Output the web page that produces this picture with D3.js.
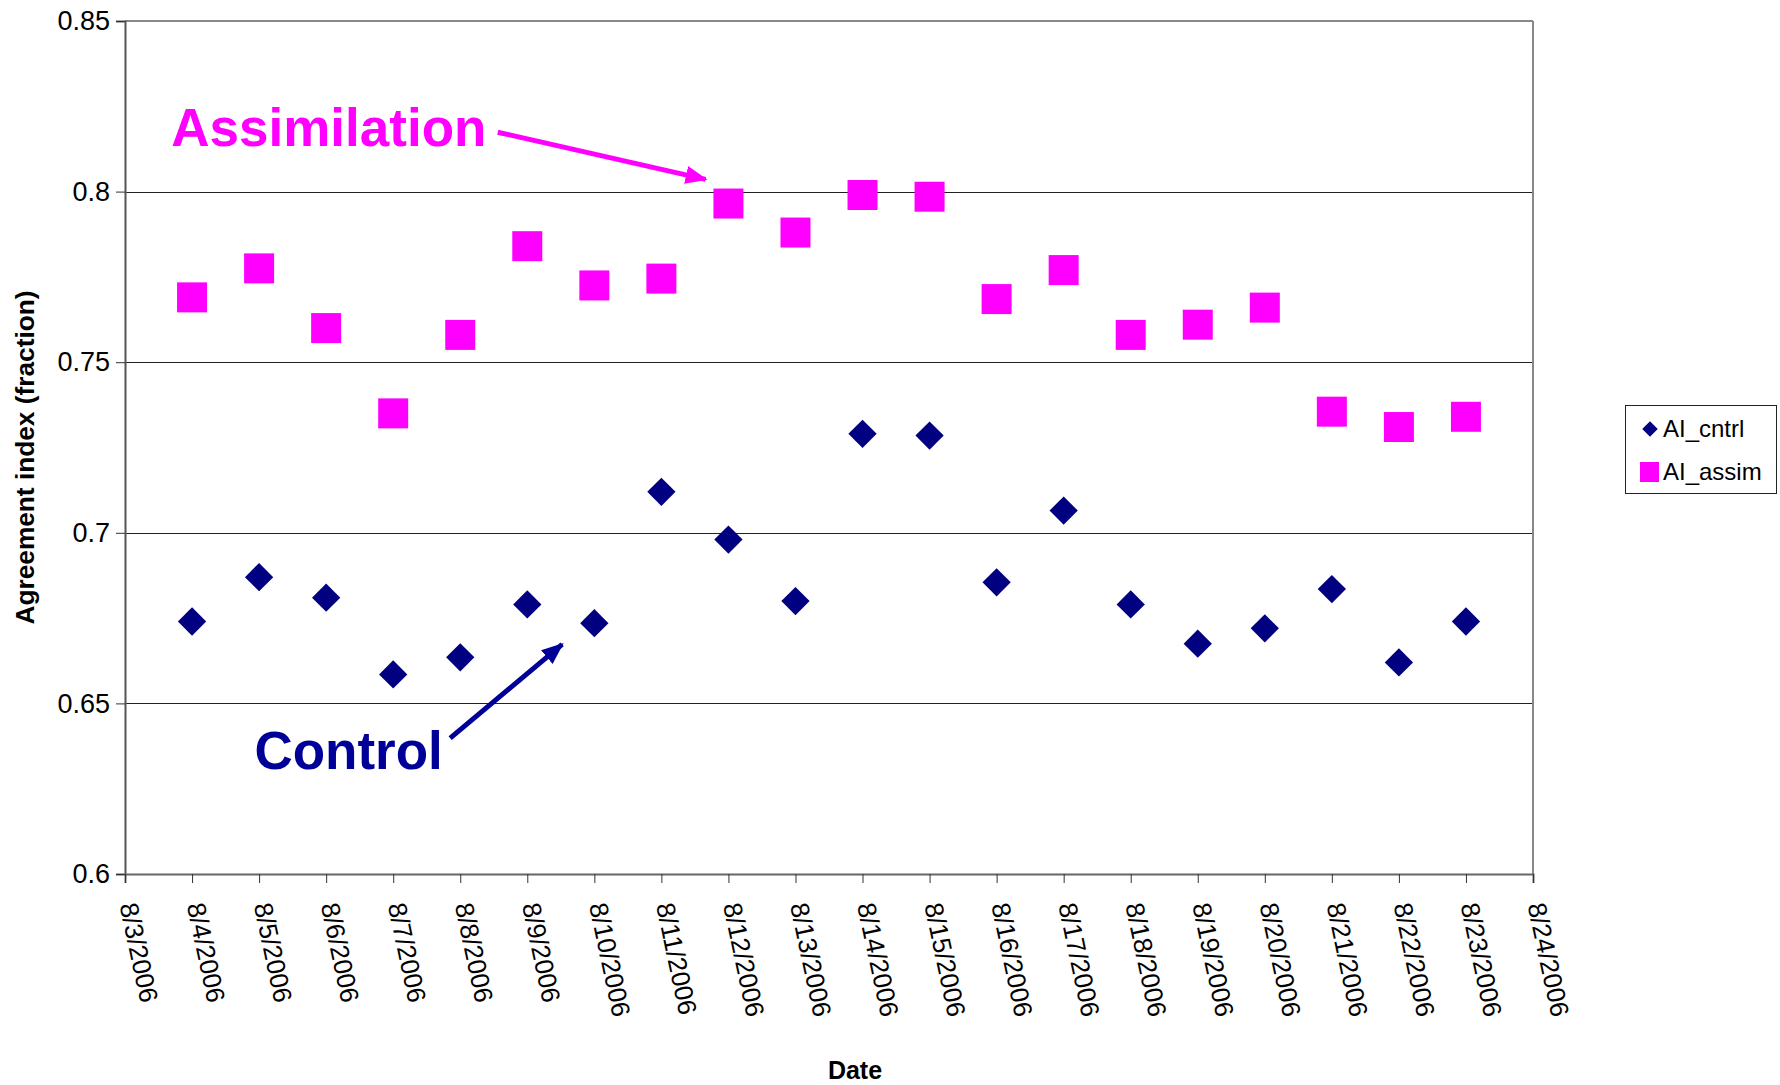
<!DOCTYPE html>
<html>
<head>
<meta charset="utf-8">
<script src="https://cdn.jsdelivr.net/npm/d3@7"></script>
<style>
  html, body { margin: 0; padding: 0; background: #ffffff; }
  svg { display: block; font-family: "Liberation Sans", Arial, sans-serif; }
</style>
</head>
<body>
<svg id="chart" width="1780" height="1085"></svg>
<script>
// ---- data ----
const dates = ["2006-08-04","2006-08-05","2006-08-06","2006-08-07","2006-08-08","2006-08-09","2006-08-10",
  "2006-08-11","2006-08-12","2006-08-13","2006-08-14","2006-08-15","2006-08-16","2006-08-17",
  "2006-08-18","2006-08-19","2006-08-20","2006-08-21","2006-08-22","2006-08-23"];
const aiCntrl = [0.674, 0.687, 0.681, 0.6585, 0.6635, 0.679, 0.6735, 0.712, 0.698, 0.680,
  0.729, 0.7285, 0.6855, 0.7065, 0.679, 0.6675, 0.672, 0.6835, 0.662, 0.674];
const aiAssim = [0.769, 0.7775, 0.760, 0.735, 0.758, 0.784, 0.7725, 0.7745, 0.7965, 0.788,
  0.799, 0.7985, 0.7685, 0.777, 0.758, 0.761, 0.766, 0.7355, 0.731, 0.734];
const seriesNames = ["AI_cntrl", "AI_assim"];
const yTickValues = [0.6, 0.65, 0.7, 0.75, 0.8, 0.85];
const yTickLabels = ["0.6", "0.65", "0.7", "0.75", "0.8", "0.85"];
const xDomain = ["2006-08-03", "2006-08-24"];
const xTickLabels = ["8/3/2006","8/4/2006","8/5/2006","8/6/2006","8/7/2006","8/8/2006","8/9/2006",
  "8/10/2006","8/11/2006","8/12/2006","8/13/2006","8/14/2006","8/15/2006","8/16/2006","8/17/2006",
  "8/18/2006","8/19/2006","8/20/2006","8/21/2006","8/22/2006","8/23/2006","8/24/2006"];
const yTitle = "Agreement index (fraction)";
const xTitle = "Date";
// annotations in data space: [day offset from 8/3, value]
const annAssim = { text: "Assimilation", pos: [0.69, 0.8133], from: [5.56, 0.8174], to: [8.66, 0.8036] };
const annCtrl = { text: "Control", pos: [1.93, 0.6307], from: [4.85, 0.6398], to: [6.52, 0.6673] };

// ---- layout ----
const M = { left: 125, right: 1533, top: 21, bottom: 874 };
const colCntrl = "#000080", colAssim = "#ff00ff";

const svg = d3.select("#chart");
const parse = d3.utcParse("%Y-%m-%d");
const x = d3.scaleUtc().domain(xDomain.map(parse)).range([M.left, M.right]);
const y = d3.scaleLinear().domain([0.6, 0.85]).range([M.bottom, M.top]);
const dayMs = 86400000;
const xOff = d => x(new Date(parse(xDomain[0]).getTime() + d * dayMs));

// gridlines
svg.append("g").selectAll("line").data(yTickValues.filter(v => v > 0.6 && v < 0.85))
  .join("line")
  .attr("x1", M.left).attr("x2", M.right)
  .attr("y1", d => Math.round(y(d)) + 0.5).attr("y2", d => Math.round(y(d)) + 0.5)
  .attr("stroke", "#222").attr("stroke-width", 1);

// frame top/right
svg.append("line").attr("x1", M.left).attr("x2", M.right).attr("y1", y(0.85)).attr("y2", y(0.85))
  .attr("stroke", "#888").attr("stroke-width", 2);
svg.append("line").attr("x1", M.right).attr("x2", M.right).attr("y1", M.top).attr("y2", M.bottom)
  .attr("stroke", "#888").attr("stroke-width", 2);

// y axis
const yAxis = d3.axisLeft(y).tickValues(yTickValues)
  .tickFormat((d, i) => yTickLabels[i]).tickSize(9).tickPadding(6);
const gy = svg.append("g").attr("transform", `translate(${M.left},0)`).call(yAxis);
gy.select(".domain").attr("stroke", "#555").attr("stroke-width", 2);
gy.selectAll(".tick line").attr("stroke", "#333");
gy.selectAll("text").attr("font-size", 27).attr("fill", "#000")
  .attr("font-family", "'Liberation Sans', Arial, sans-serif");

// x axis
const xTicks = d3.utcDay.range(parse(xDomain[0]), new Date(parse(xDomain[1]).getTime() + 1));
const xAxis = d3.axisBottom(x).tickValues(xTicks).tickFormat((d, i) => xTickLabels[i]).tickSize(9);
const gx = svg.append("g").attr("transform", `translate(0,${M.bottom})`).call(xAxis);
gx.select(".domain").attr("stroke", "#666").attr("stroke-width", 2);
gx.selectAll(".tick line").attr("stroke", "#333");
gx.selectAll("text")
  .attr("font-size", 26).attr("fill", "#000")
  .attr("font-family", "'Liberation Sans', Arial, sans-serif")
  .attr("text-anchor", "start")
  .attr("y", 0).attr("dy", "0.35em")
  .attr("transform", "translate(3,29) rotate(78)");

// axis titles
svg.append("text")
  .attr("transform", `translate(34,${(M.top + M.bottom) / 2 + 10}) rotate(-90)`)
  .attr("text-anchor", "middle").attr("font-weight", "bold").attr("font-size", 25)
  .attr("textLength", 334).attr("lengthAdjust", "spacingAndGlyphs")
  .text(yTitle);
svg.append("text")
  .attr("x", 855).attr("y", 1079).attr("text-anchor", "middle")
  .attr("font-weight", "bold").attr("font-size", 25).text(xTitle);

// points
const data = dates.map((d, i) => ({ date: parse(d), c: aiCntrl[i], a: aiAssim[i] }));
svg.append("g").selectAll("path").data(data).join("path")
  .attr("d", d3.symbol(d3.symbolSquare, 900))
  .attr("transform", d => `translate(${x(d.date)},${y(d.a)})`)
  .attr("fill", colAssim);
svg.append("g").selectAll("path").data(data).join("path")
  .attr("d", d3.symbol(d3.symbolSquare, 400))
  .attr("transform", d => `translate(${x(d.date)},${y(d.c)}) rotate(45)`)
  .attr("fill", colCntrl);

// arrow markers
const defs = svg.append("defs");
function marker(id, color) {
  defs.append("marker").attr("id", id).attr("markerUnits", "userSpaceOnUse")
    .attr("viewBox", "0 -10 22 20").attr("refX", 20).attr("refY", 0)
    .attr("markerWidth", 22).attr("markerHeight", 20).attr("orient", "auto")
    .append("path").attr("d", "M0,-9L22,0L0,9Z").attr("fill", color);
}
marker("arrA", colAssim);
marker("arrC", "#000099");

function annotate(a, color, mid) {
  svg.append("text").attr("x", xOff(a.pos[0])).attr("y", y(a.pos[1]))
    .attr("font-weight", "bold").attr("font-size", 53).attr("fill", color).text(a.text);
  svg.append("line")
    .attr("x1", xOff(a.from[0])).attr("y1", y(a.from[1]))
    .attr("x2", xOff(a.to[0])).attr("y2", y(a.to[1]))
    .attr("stroke", color).attr("stroke-width", 5)
    .attr("marker-end", `url(#${mid})`);
}
annotate(annAssim, colAssim, "arrA");
annotate(annCtrl, "#000099", "arrC");

// legend
const lg = svg.append("g");
lg.append("rect").attr("x", 1625.5).attr("y", 405.5).attr("width", 151).attr("height", 88)
  .attr("fill", "#fff").attr("stroke", "#222").attr("stroke-width", 1);
lg.append("path").attr("d", d3.symbol(d3.symbolSquare, 120))
  .attr("transform", "translate(1650,429) rotate(45)").attr("fill", colCntrl);
lg.append("rect").attr("x", 1640).attr("y", 462).attr("width", 19).attr("height", 20).attr("fill", colAssim);
lg.append("text").attr("x", 1663).attr("y", 437).attr("font-size", 24).text(seriesNames[0]);
lg.append("text").attr("x", 1663).attr("y", 480).attr("font-size", 24).text(seriesNames[1]);
</script>
</body>
</html>
